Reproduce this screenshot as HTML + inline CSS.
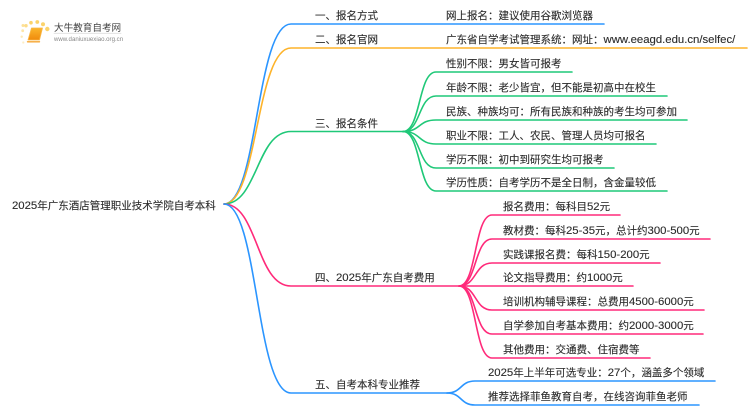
<!DOCTYPE html>
<html><head><meta charset="utf-8"><style>
html,body{margin:0;padding:0;background:#fff;width:750px;height:410px;overflow:hidden}
svg{display:block}
text{font-family:"Liberation Sans","Noto Sans CJK SC",sans-serif;font-size:10.5px;fill:#2b2b2b;stroke:#2b2b2b;stroke-width:.12px}
tspan{font-size:11.35px}
path{fill:none;stroke-width:1.6;stroke-linecap:round}
</style></head><body>
<svg width="750" height="410" viewBox="0 0 750 410" xmlns="http://www.w3.org/2000/svg">
<defs><linearGradient id="b" x1="0" y1="0" x2="0" y2="1"><stop offset="0" stop-color="#fbb62c"/><stop offset="1" stop-color="#f08a0c"/></linearGradient></defs>
<!-- logo -->
<g fill="#fbd36b">
<circle cx="23" cy="25.500" r="1.500" opacity=".7"/><circle cx="26" cy="25.700" r="1.700" opacity=".8"/><circle cx="31" cy="22.700" r="1.800"/><circle cx="37.300" cy="22" r="1.900"/><circle cx="43" cy="24.300" r="2"/><circle cx="47.300" cy="29" r="2.200"/><circle cx="22.700" cy="30.700" r="1.400" opacity=".6"/><circle cx="21.700" cy="36.700" r="1.200" opacity=".5"/><circle cx="23.300" cy="42.500" r="1.100" opacity=".4"/>
</g>
<path d="M31.500 28H42.500L39.500 40H28Z" style="fill:url(#b);stroke:#f8b84a;stroke-width:.8;stroke-linejoin:round"/>
<path d="M27.500 41.800H39.500" style="stroke:#f6a531;stroke-width:1.300"/>
<text x="54" y="31" style="font-size:9.600px;fill:#444;stroke:none">大牛教育自考网</text>
<path d="M54 33.300H121" style="stroke:#ddd;stroke-width:.8"/>
<text x="54" y="41" style="font-size:6.100px;fill:#888;stroke:none">www.daniuxuexiao.org.cn</text>

<!-- main branches -->
<path stroke="#2b95ff" d="M224 204C258 204 256 24 291 24H604"/>
<path stroke="#fdb32a" d="M224 204C258 204 256 48 291 48H747"/>
<path stroke="#1fc878" d="M224 204C258 204 256 131.500 291 131.500H403"/>
<path stroke="#ff2a7a" d="M224 204C258 204 256 286 291 286H459"/>
<path stroke="#2b95ff" d="M224 204C258 204 256 393 291 393H447"/>

<!-- 三 children -->
<g stroke="#1fc878">
<path d="M403 131.500C421 131.500 418 72 436 72H572"/>
<path d="M403 131.500C421 131.500 418 96 436 96H667"/>
<path d="M403 131.500C421 131.500 418 120 436 120H687"/>
<path d="M403 131.500C421 131.500 418 144 436 144H656"/>
<path d="M403 131.500C421 131.500 418 168 436 168H614"/>
<path d="M403 131.500C421 131.500 418 191 436 191H667"/>
</g>
<!-- 四 children -->
<g stroke="#ff2a7a">
<path d="M459 286C477 286 474 215 492 215H620"/>
<path d="M459 286C477 286 474 239 492 239H710"/>
<path d="M459 286C477 286 474 263 492 263H660"/>
<path d="M459 286H633"/>
<path d="M459 286C477 286 474 310 492 310H704"/>
<path d="M459 286C477 286 474 334 492 334H703"/>
<path d="M459 286C477 286 474 358 492 358H650"/>
</g>
<!-- 五 children -->
<g stroke="#2b95ff">
<path d="M447 393C462 393 460 381 475 381H715"/>
<path d="M447 393C462 393 460 405 475 405H699"/>
</g>

<text x="12" y="209"><tspan>2025</tspan>年广东酒店管理职业技术学院自考本科</text>
<text x="315" y="19">一、报名方式</text>
<text x="315" y="43">二、报名官网</text>
<text x="315" y="127">三、报名条件</text>
<text x="315" y="281">四、<tspan>2025</tspan>年广东自考费用</text>
<text x="315" y="388">五、自考本科专业推荐</text>

<text x="446" y="19">网上报名：建议使用谷歌浏览器</text>
<text x="446" y="43">广东省自学考试管理系统：网址：<tspan>www.eeagd.edu.cn/selfec/</tspan></text>
<text x="446" y="67">性别不限：男女皆可报考</text>
<text x="446" y="91">年龄不限：老少皆宜，但不能是初高中在校生</text>
<text x="446" y="115">民族、种族均可：所有民族和种族的考生均可参加</text>
<text x="446" y="139">职业不限：工人、农民、管理人员均可报名</text>
<text x="446" y="163">学历不限：初中到研究生均可报考</text>
<text x="446" y="186">学历性质：自考学历不是全日制，含金量较低</text>

<text x="503" y="210">报名费用：每科目<tspan>52</tspan>元</text>
<text x="503" y="234">教材费：每科<tspan>25-35</tspan>元，总计约<tspan>300-500</tspan>元</text>
<text x="503" y="258">实践课报名费：每科<tspan>150-200</tspan>元</text>
<text x="503" y="281">论文指导费用：约<tspan>1000</tspan>元</text>
<text x="503" y="305">培训机构辅导课程：总费用<tspan>4500-6000</tspan>元</text>
<text x="503" y="329">自学参加自考基本费用：约<tspan>2000-3000</tspan>元</text>
<text x="503" y="353">其他费用：交通费、住宿费等</text>

<text x="488" y="376"><tspan>2025</tspan>年上半年可选专业：<tspan>27</tspan>个，涵盖多个领域</text>
<text x="488" y="400">推荐选择菲鱼教育自考，在线咨询菲鱼老师</text>
</svg>
</body></html>
